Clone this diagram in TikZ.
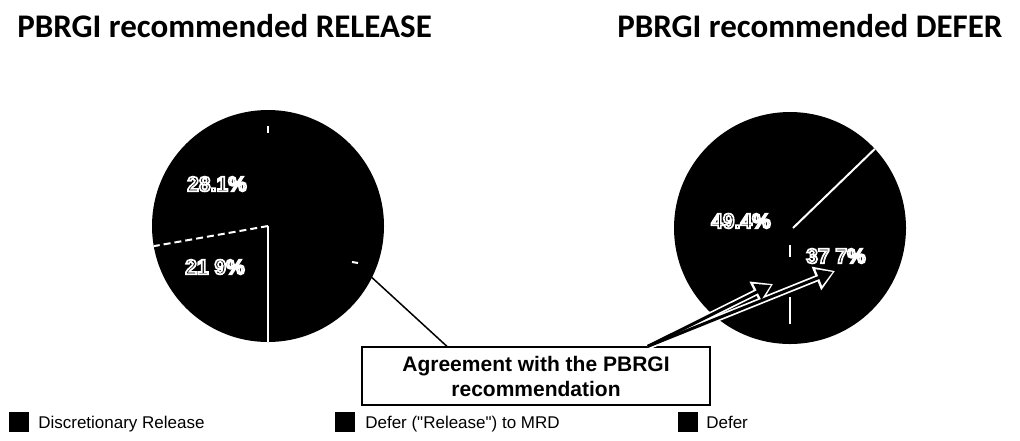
\documentclass[tikz,border=0pt]{standalone}
\usepackage{fontspec}
\setmainfont{Liberation Sans}
\newfontfamily\ttlfont{Carlito}
\newfontfamily\legfont{Liberation Sans}
\usetikzlibrary{arrows.meta, calc}
\newcommand\outln[1]{\special{pdf:literal direct 1 1 1 RG 1.7 w 2 Tr}#1\special{pdf:literal direct 0 Tr 0 0 0 RG}}

\begin{document}
\begin{tikzpicture}[x=1pt, y=-1pt, >=latex, semithick,
  pie/.style={circle, fill=black, inner sep=0pt, outer sep=0pt, minimum size=232pt},
  slice/.style={white, line width=2pt},
  pct/.style={font=\bfseries\fontsize{21}{24}\selectfont, text=black, inner sep=0pt},
  ttl/.style={anchor=base west, font=\ttlfont\bfseries\fontsize{33}{38}\selectfont, inner sep=0pt},
  legsq/.style={fill=black, inner sep=0pt, minimum size=20pt},
  legtxt/.style={anchor=base west, inner sep=0pt, font=\legfont\fontsize{17}{20}\selectfont},
  outarrow/.style={white, line width=6.5pt, -{Triangle[length=20pt, width=24pt]}},
  inarrow/.style={black, line width=3pt, shorten >=2.5pt, -{Triangle[length=15pt, width=17pt]}}]

\useasboundingbox (0, 0) rectangle (1020, 440);

\node (ttlrel) at (17, 37) [ttl] {PBRGI recommended RELEASE};
\node (ttldef) at (617, 37) [ttl] {PBRGI recommended DEFER};

\node (lpie) at (268, 226) [pie] {};
\node (rpie) at (790, 228) [pie] {};

\draw[slice] ($(lpie.center)!0.8!(lpie.north)$) -- ($(lpie.center)!0.86!(lpie.north)$);
\draw[slice, dash pattern=on 7pt off 4pt] (lpie.center) -- (lpie.190);
\draw[slice] (lpie.center) -- (lpie.south);

\draw[slice] ($(rpie.center)+(3, 0)$) -- (rpie.43);
\draw[slice] ($(rpie.center)+(0, 17)$) -- ($(rpie.center)+(0, 29)$);
\draw[slice] ($(rpie.center)+(0, 69)$) -- ($(rpie.center)+(0, 96)$);

\node (lblrelb) at (217, 184) [pct] {\outln{28.1\%}};
\node (lbldisc) at (215, 267) [pct] {\outln{21 9\%}};
\node (lbldefb) at (741, 221) [pct] {\outln{49.4\%}};
\node (lbldefa) at (836, 256) [pct] {\outln{37 7\%}};

\node (agree) at (536, 376) [draw, line width=1.3pt, minimum width=348pt, minimum height=58pt, align=center, font=\bfseries\fontsize{21}{25}\selectfont] {Agreement with the PBRGI\\recommendation};

\coordinate (lend) at (355, 262);
\coordinate (rstart) at ($(agree.north west)!0.82!(agree.north east)$);
\coordinate (tipa) at (773, 284);
\coordinate (tipb) at (835, 271);

\draw[black, line width=1.5pt] ($(agree.north west)!0.245!(agree.north east)$) -- (lend);
\draw[slice] ($(lend)+(-3, 0)$) -- ($(lend)+(3, 1)$);

\draw[outarrow] (rstart) -- (tipa);
\draw[outarrow] (rstart) -- (tipb);
\draw[inarrow] (rstart) -- (tipa);
\draw[inarrow] (rstart) -- (tipb);

\node (sqrel) at (19, 422) [legsq] {};
\node (sqmrd) at (345, 422) [legsq] {};
\node (sqdef) at (688, 422) [legsq] {};
\node (txrel) at (38, 428) [legtxt] {Discretionary Release};
\node (txmrd) at (365, 428) [legtxt] {Defer ("Release") to MRD};
\node (txdef) at (706, 428) [legtxt] {Defer};

\end{tikzpicture}
\end{document}
